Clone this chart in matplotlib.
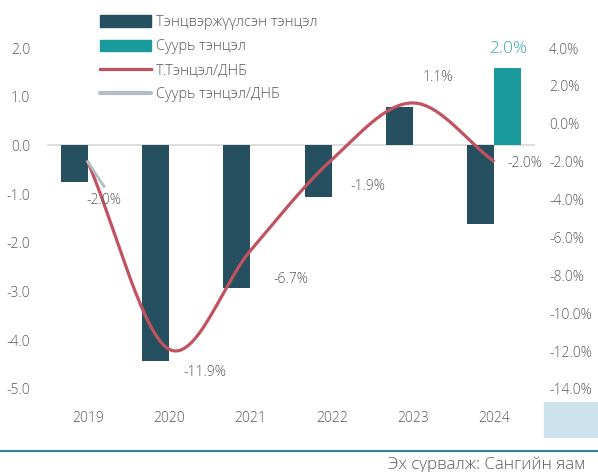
import numpy as np
import matplotlib
matplotlib.use("Agg")
import matplotlib.pyplot as plt
from matplotlib.patches import Patch, Rectangle
from matplotlib.lines import Line2D

plt.rcParams['font.family'] = ['Open Sans', 'DejaVu Sans']
plt.rcParams['font.weight'] = 'light'

years = ['2019', '2020', '2021', '2022', '2023', '2024']
balanced = [-0.75, -4.43, -2.92, -1.05, 0.78, -1.62]      # Тэнцвэржүүлсэн тэнцэл
primary = [np.nan, np.nan, np.nan, np.nan, np.nan, 1.58]  # Суурь тэнцэл
balance_gdp = [-2.0, -11.9, -6.7, -1.9, 1.1, -2.0]        # Т.Тэнцэл/ДНБ
primary_gdp_x = [0, 0.2]                                  # Суурь тэнцэл/ДНБ (short stub)
primary_gdp = [-2.0, -3.3]
primary_label = '2.0%'

dark = '#26505f'
teal = '#1a9a9a'
red = '#c0535f'
grey = '#b4bcc6'
txt = '#595959'


def smooth(y, n=30):
    # Bezier smoothing like Excel's smoothed line
    y = np.asarray(y, float)
    x = np.arange(len(y), dtype=float)
    p = np.column_stack([x, y])
    p = np.vstack([2 * p[0] - p[1], p, 2 * p[-1] - p[-2]])
    out = []
    for i in range(1, len(p) - 2):
        p0, p1, p2, p3 = p[i - 1], p[i], p[i + 1], p[i + 2]
        c1 = p1 + (p2 - p0) / 6
        c2 = p2 - (p3 - p1) / 6
        t = np.linspace(0, 1, n)[:, None]
        seg = ((1 - t) ** 3) * p1 + 3 * ((1 - t) ** 2) * t * c1 + 3 * (1 - t) * t ** 2 * c2 + t ** 3 * p2
        out.append(seg)
    s = np.vstack(out)
    return s[:, 0], s[:, 1]


fig = plt.figure(figsize=(5.98, 4.72), dpi=100)
ax = fig.add_axes([47 / 598, 1 - 389 / 472, 488 / 598, 341 / 472])
x = np.arange(len(years))
w = 0.33
ax.bar(x - w / 2, balanced, w, color=dark, zorder=2)
ax.bar(x + w / 2, primary, w, color=teal, zorder=2)
ax.axhline(0, color='#d9d9d9', lw=1.2, zorder=1)
ax.set_xlim(-0.5, 5.5)
ax.set_ylim(-5, 2)
ax.set_yticks(np.arange(-5, 2.1, 1))
ax.set_yticklabels([f'{v:.1f}' for v in np.arange(-5, 2.1, 1)])
ax.set_xticks(x)
ax.set_xticklabels(years)
for s in ax.spines.values():
    s.set_visible(False)
ax.tick_params(length=0, colors=txt, labelsize=10)
ax.tick_params(axis='x', pad=16)
ax.tick_params(axis='y', pad=12)

ax2 = ax.twinx()
ax2.set_ylim(-14, 4)
ax2.set_yticks(np.arange(-14, 4.1, 2))
ax2.set_yticklabels([f'{v:.1f}%' for v in np.arange(-14, 4.1, 2)])
for s in ax2.spines.values():
    s.set_visible(False)
ax2.tick_params(length=0, colors=txt, labelsize=10, pad=10)

sx, sy = smooth(balance_gdp)
ax2.plot(sx, sy, color=red, lw=2.3, zorder=3, solid_capstyle='butt')
ax2.plot(primary_gdp_x, primary_gdp, color=grey, lw=2, zorder=3)

offsets = [(12, -28), (26, -17), (29, -21), (26, -19), (18, 18), (22, -1.5)]
for i, (v, off) in enumerate(zip(balance_gdp, offsets)):
    ax2.annotate(f'{v:.1f}%', (x[i], v), xytext=off, textcoords='offset points',
                 ha='center', va='center', color=txt, fontsize=10)
ax.annotate(primary_label, (x[5] + w / 2, primary[5]), xytext=(0, 14), textcoords='offset points',
            ha='center', va='center', color='#3aabab', fontsize=12.5)

handles = [Patch(color=dark), Patch(color=teal),
           Line2D([], [], color=red, lw=2.3), Line2D([], [], color=grey, lw=3, solid_capstyle='round')]
labels = ['Тэнцвэржүүлсэн тэнцэл', 'Суурь тэнцэл', 'Т.Тэнцэл/ДНБ', 'Суурь тэнцэл/ДНБ']
fig.legend(handles, labels, loc='upper left', bbox_to_anchor=(87 / 598, 1 - 2 / 472),
           frameon=False, fontsize=10.5, handlelength=3.5, handleheight=0.8,
           labelspacing=0.62, handletextpad=0.3, labelcolor=txt)

fig.patches.append(Rectangle((544 / 598, 1 - 437 / 472), 54 / 598, 35 / 472,
                             transform=fig.transFigure, color='#cce3ee', zorder=0))
fig.add_artist(Line2D([0, 1], [1 - 451 / 472] * 2, transform=fig.transFigure, color='#2a8a8f', lw=1.5))
fig.text(586 / 598, 1 - 465 / 472, 'Эх сурвалж: Сангийн яам', ha='right', va='center',
         color=txt, fontsize=12.2)

fig.savefig('out.png', dpi=100)
